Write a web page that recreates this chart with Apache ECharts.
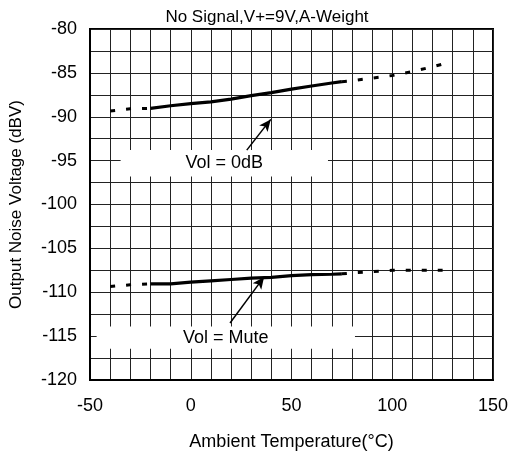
<!DOCTYPE html>
<html>
<head>
<meta charset="utf-8">
<script src="https://cdn.jsdelivr.net/npm/echarts@6/dist/echarts.min.js"></script>
<style>html,body{margin:0;padding:0;background:#fff;}#c{width:509px;height:451px;}</style>
</head>
<body>
<div id="c"></div>
<script>
// ---- data ----
var titleText = 'No Signal,V+=9V,A-Weight';
var xName = 'Ambient Temperature(°C)';
var yName = 'Output Noise Voltage (dBV)';
var temps    = [-40, -30, -20, -10, 0, 10, 20, 30, 40, 50, 60, 70, 75, 80, 90, 100, 110, 120, 125];
var vol0dB   = [-89.35, -89.1, -89.05, -88.75, -88.5, -88.3, -88.0, -87.6, -87.25, -86.85, -86.5, -86.15, -86.0, -85.9, -85.6, -85.3, -84.85, -84.3, -84.0];
var volMute  = [-109.35, -109.15, -109.05, -109.05, -108.85, -108.7, -108.55, -108.4, -108.3, -108.1, -108.0, -107.95, -107.9, -107.8, -107.65, -107.5, -107.5, -107.5, -107.5];
var solidFrom = -20, solidTo = 75;           // measured range drawn solid
var label0dB = 'Vol = 0dB', labelMute = 'Vol = Mute';
// annotation boxes [x1, y1, x2, y2] in data units
var box0dB  = [-34.8, -93.8, 68.1, -96.8];
var boxMute = [-46.7, -113.9, 81.5, -116.45];
// arrows [tailX, tailY, tipX, tipY]
var arrow0dB  = [27.8, -93.8, 39.7, -90.3];
var arrowMute = [19.5, -113.5, 36.4, -108.25];

function seg(vals, lo, hi) {
  var out = [];
  for (var i = 0; i < temps.length; i++) {
    if (temps[i] >= lo && temps[i] <= hi) out.push([temps[i], vals[i]]);
  }
  return out;
}
var FONT = 'Liberation Sans, Arial, sans-serif';
var solidStyle = {color: '#000', width: 3.2};
var dashStyle = {color: '#000', width: 3, type: [5, 11], cap: 'butt'};

function lineSeries(data, style) {
  return {type: 'line', data: data, showSymbol: false, symbol: 'none', lineStyle: style, silent: true, z: 3, animation: false};
}
function boxSeries(box, txt, arr) {
  return {
    type: 'line', data: [], silent: true, animation: false, z: 2,
    markArea: {
      silent: true,
      itemStyle: {color: '#fff', opacity: 1},
      label: {show: true, position: 'inside', color: '#000', fontSize: 18, fontFamily: FONT},
      data: [[{coord: [box[0], box[1]], name: txt}, {coord: [box[2], box[3]]}]]
    },
    markLine: {
      silent: true, symbol: ['none', 'arrow'], symbolSize: [8, 12],
      lineStyle: {color: '#000', width: 1.5, type: 'solid'},
      label: {show: false},
      data: [[{coord: [arr[0], arr[1]]}, {coord: [arr[2], arr[3]]}]]
    }
  };
}

var chart = echarts.init(document.getElementById('c'));
chart.setOption({
  animation: false,
  backgroundColor: '#fff',
  title: {text: titleText, left: 262, top: 4, textAlign: 'center',
    textStyle: {fontSize: 17, fontWeight: 'normal', color: '#000', fontFamily: FONT}},
  grid: {left: 90, top: 29, right: 16, bottom: 71, show: true, borderColor: '#000', borderWidth: 2,
    backgroundColor: 'transparent', outerBoundsMode: 'none', containLabel: false},
  xAxis: {
    type: 'value', min: -50, max: 150, interval: 50,
    name: xName, nameLocation: 'middle', nameGap: 53,
    nameTextStyle: {fontSize: 18, color: '#000', fontFamily: FONT},
    axisLine: {show: true, onZero: false, lineStyle: {color: '#000', width: 2}},
    axisTick: {show: false},
    axisLabel: {fontSize: 18, color: '#000', margin: 17, fontFamily: FONT},
    splitLine: {show: true, lineStyle: {color: '#222', width: 1}},
    minorTick: {show: false, splitNumber: 5},
    minorSplitLine: {show: true, lineStyle: {color: '#222', width: 1}}
  },
  yAxis: {
    type: 'value', min: -120, max: -80, interval: 5,
    name: yName, nameLocation: 'middle', nameGap: 65,
    nameTextStyle: {fontSize: 17, color: '#000', fontFamily: FONT},
    axisLine: {show: true, onZero: false, lineStyle: {color: '#000', width: 2}},
    axisTick: {show: false},
    axisLabel: {fontSize: 18, color: '#000', margin: 13, fontFamily: FONT},
    splitLine: {show: true, lineStyle: {color: '#222', width: 1}},
    minorTick: {show: false, splitNumber: 2},
    minorSplitLine: {show: true, lineStyle: {color: '#222', width: 1}}
  },
  series: [
    boxSeries(box0dB, label0dB, arrow0dB),
    boxSeries(boxMute, labelMute, arrowMute),
    lineSeries(seg(vol0dB, -999, solidFrom), dashStyle),
    lineSeries(seg(vol0dB, solidFrom, solidTo), solidStyle),
    lineSeries(seg(vol0dB, solidTo, 999), dashStyle),
    lineSeries(seg(volMute, -999, solidFrom), dashStyle),
    lineSeries(seg(volMute, solidFrom, solidTo), solidStyle),
    lineSeries(seg(volMute, solidTo, 999), dashStyle)
  ]
});
</script>
</body>
</html>
